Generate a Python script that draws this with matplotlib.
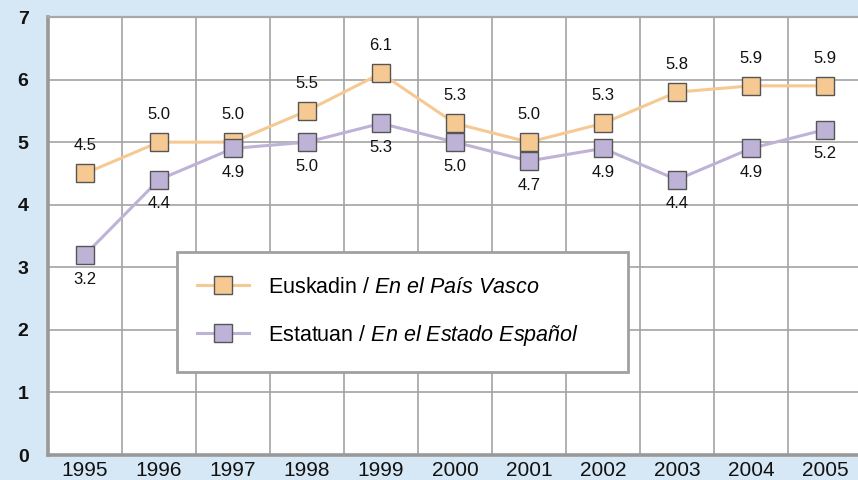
import matplotlib.pyplot as plt
from matplotlib.patches import Rectangle

plt.rcParams['font.family'] = ['Liberation Sans', 'DejaVu Sans']
plt.rcParams['mathtext.fontset'] = 'custom'
plt.rcParams['mathtext.rm'] = 'Liberation Sans'
plt.rcParams['mathtext.it'] = 'Liberation Sans:italic'

years = ['1995', '1996', '1997', '1998', '1999', '2000',
         '2001', '2002', '2003', '2004', '2005']
euskadi = [4.5, 5.0, 5.0, 5.5, 6.1, 5.3, 5.0, 5.3, 5.8, 5.9, 5.9]
estado = [3.2, 4.4, 4.9, 5.0, 5.3, 5.0, 4.7, 4.9, 4.4, 4.9, 5.2]
labels = ['Euskadin / $\\it{En\\ el\\ País\\ Vasco}$',
          'Estatuan / $\\it{En\\ el\\ Estado\\ Español}$']

orange = '#F6C993'
purple = '#BEB3D7'
edge = '#555555'
grid_c = '#A3A3A3'
bg = '#D6E8F5'

fig = plt.figure(figsize=(8.58, 4.8), dpi=100, facecolor=bg)
ax = fig.add_axes([48 / 858, 25 / 480, 814 / 858, 438 / 480])
ax.set_facecolor('white')

x = list(range(len(years)))
ax.plot(x, euskadi, color=orange, lw=2.2, marker='s', ms=13,
        mfc=orange, mec=edge, mew=1.0, zorder=3, label=labels[0])
ax.plot(x, estado, color=purple, lw=2.2, marker='s', ms=13,
        mfc=purple, mec=edge, mew=1.0, zorder=3, label=labels[1])

# data labels
for i, v in enumerate(euskadi):
    ax.annotate(f'{v:.1f}', (i, v), xytext=(0, 20), textcoords='offset points',
                ha='center', va='center', fontsize=12, color='#111111')
for i, v in enumerate(estado):
    ax.annotate(f'{v:.1f}', (i, v), xytext=(0, -17.5), textcoords='offset points',
                ha='center', va='center', fontsize=12, color='#111111')

ax.set_xlim(-0.5, len(years) - 0.5)
ax.set_ylim(0, 7)
ax.set_yticks(range(0, 8))
ax.set_yticklabels([str(t) for t in range(0, 8)], fontweight='bold', fontsize=14)
ax.set_xticks(x)
ax.set_xticklabels(years, fontsize=15)
ax.set_xticks([i + 0.5 for i in x[:-1]], minor=True)

ax.tick_params(axis='both', which='both', length=0, colors='#111111')
ax.tick_params(axis='y', pad=14)
ax.tick_params(axis='x', pad=4)

ax.grid(which='minor', axis='x', color=grid_c, lw=1.2)
ax.grid(which='major', axis='y', color=grid_c, lw=1.2)
ax.set_axisbelow(True)

for s in ['left', 'bottom']:
    ax.spines[s].set_color('#999999')
    ax.spines[s].set_linewidth(2.6)
for s in ['top', 'right']:
    ax.spines[s].set_color('#A8A8A8')
    ax.spines[s].set_linewidth(1.6)

# legend box drawn separately so its size matches
ax.add_patch(Rectangle((0.1585, 0.1895), 0.554, 0.274, transform=ax.transAxes,
                       facecolor='white', edgecolor='#A0A0A0', lw=2.0, zorder=4))
leg = ax.legend(loc='center left', bbox_to_anchor=(0.183, 0.326),
                borderaxespad=0, borderpad=0, fontsize=15.5, frameon=False,
                handlelength=2.4, handletextpad=0.92, labelspacing=1.15)
leg.set_zorder(5)

fig.savefig('out.png', dpi=100, facecolor=bg)
